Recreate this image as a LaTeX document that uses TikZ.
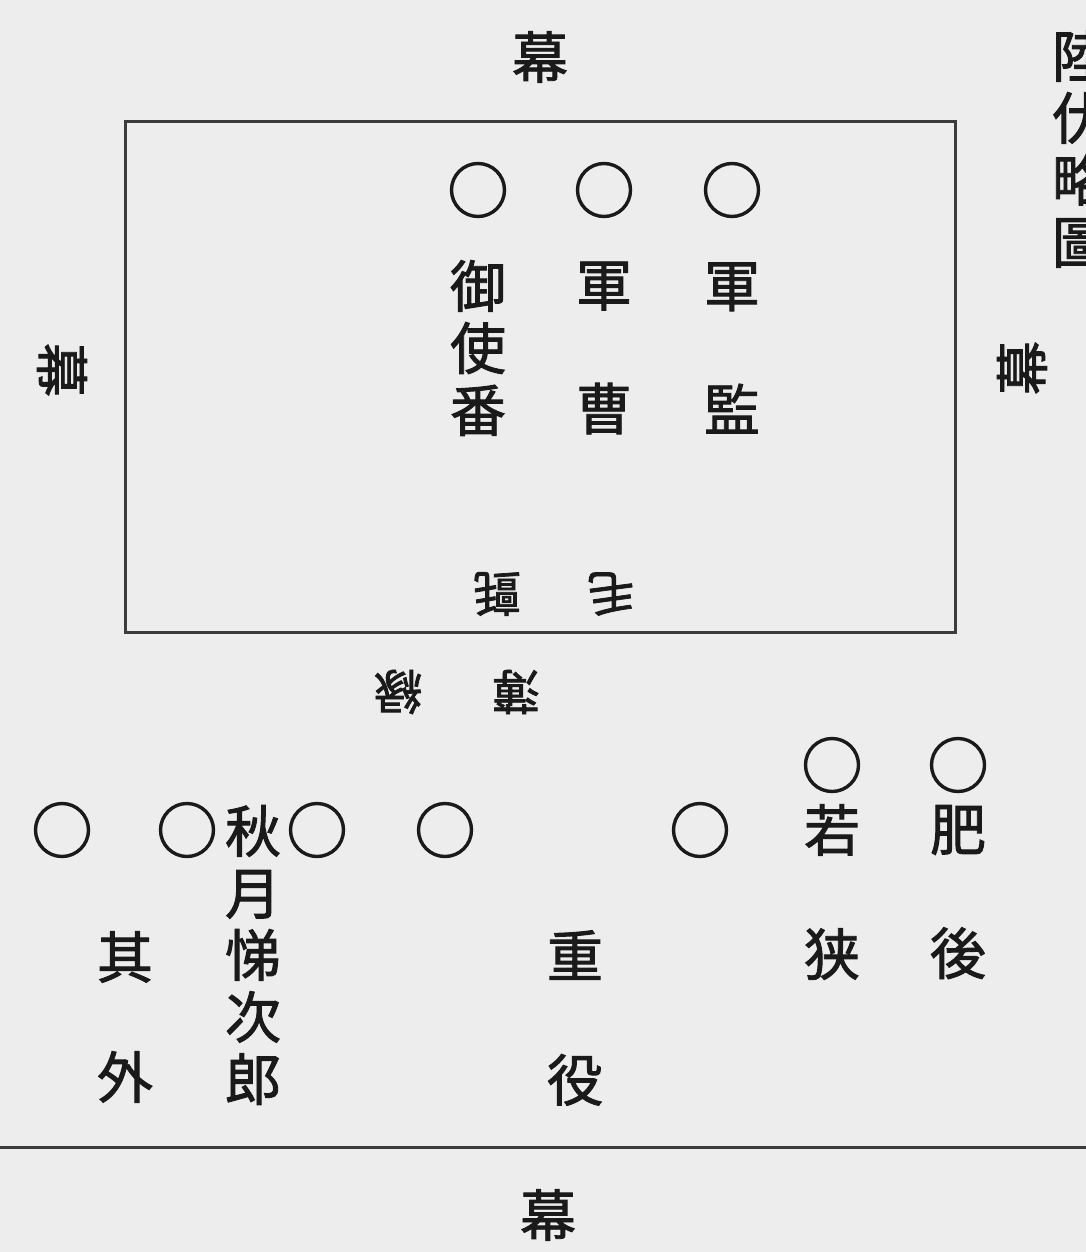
\documentclass[tikz,border=0pt]{standalone}
\usepackage{fontspec}
\newfontfamily\cjk[FakeBold=1.6]{Noto Sans CJK JP}
\definecolor{ink}{HTML}{1A1A1A}
\definecolor{paper}{HTML}{EDEDED}
\begin{document}
\begin{tikzpicture}[x=1pt,y=-1pt,
  ch/.style={font=\cjk\fontsize{56}{62}\selectfont, inner sep=0pt, text=ink, align=center},
  sm/.style={font=\cjk\fontsize{48}{52}\selectfont, inner sep=0pt, text=ink},
  ring/.style={circle, draw=ink, line width=3.4pt, minimum size=53pt, inner sep=0pt},
  rule/.style={draw=ink!85, line width=3pt}]
\fill[paper] (0,0) rectangle (1086,1252);
\useasboundingbox (0,0) rectangle (1086,1252);
% enclosure
\node[rule, rectangle, minimum width=830pt, minimum height=510pt, inner sep=0pt] (box) at (540,377) {};
\coordinate (bl) at (0,1147);
\coordinate (br) at (1086,1147);
\draw[rule] (bl) -- (br);
% curtain labels
\node[ch] (mtop) at (540,57) {幕};
\node[ch] (mbot) at (548,1215) {幕};
\node[sm, font=\cjk\fontsize{54}{60}\selectfont, rotate=-90] (mleft) at (62,370) {幕};
\node[sm, font=\cjk\fontsize{54}{60}\selectfont, rotate=90] (mright) at (1022,368) {幕};
% title fragment
\node[ch, anchor=north] (title) at (1080,30) {陸\\伏\\略\\圖};
% inside the enclosure
\node[ring] (r1) at (478,190) {};
\node[ring] (r2) at (604,190) {};
\node[ring] (r3) at (732,190) {};
\node[ch] (t1) at (478,348) {御\\使\\番};
\node[ch] (t2) at (604,348) {軍\\[62pt]曹};
\node[ch] (t3) at (732,348) {軍\\[62pt]監};
\node[sm, rotate=180] (mosen) at (554,594) {毛\hspace{66pt}氈};
\node[sm, rotate=180] (usuberi) at (457,692) {薄\hspace{70pt}縁};
% lower row
\node[ring] (r4) at (62,830) {};
\node[ring] (r5) at (187,830) {};
\node[ring] (r6) at (317,830) {};
\node[ring] (r7) at (445,830) {};
\node[ring] (r8) at (700,830) {};
\node[ring] (r9) at (832,765) {};
\node[ring] (r10) at (958,765) {};
\node[ch] (akizuki) at (253,955) {秋\\月\\悌\\次\\郎};
\node[ch] (sonota) at (125,1017) {其\\[58pt]外};
\node[ch] (juyaku) at (575,1018) {重\\[62pt]役};
\node[ch] (wakasa) at (832,892) {若\\[62pt]狭};
\node[ch] (higo) at (958,892) {肥\\[62pt]後};
\end{tikzpicture}
\end{document}
